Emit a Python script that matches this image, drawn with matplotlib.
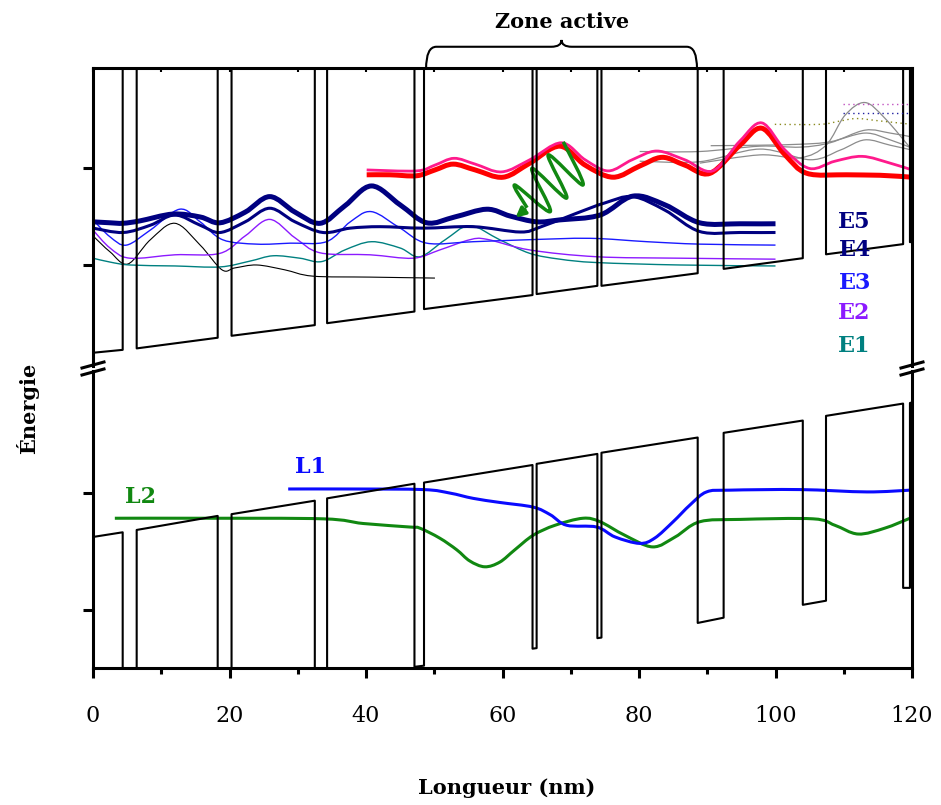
import matplotlib
matplotlib.use('Agg')
import matplotlib.pyplot as plt
from matplotlib.path import Path
from matplotlib.patches import PathPatch
from matplotlib.lines import Line2D

plt.rcParams['font.family'] = ['DejaVu Serif']

# layer interfaces (nm), starting with a well at x = 0
interfaces = [0.0, 4.35, 6.4, 18.27, 20.3, 32.5, 34.3, 47.1, 48.5, 64.4, 65.0,
              73.9, 74.5, 88.6, 92.4, 104.0, 107.4, 118.7, 119.7, 120.0]

# conduction band (upper panel), well bottom at both ends of each well
cb_well_start = [1.419, 1.428, 1.454, 1.480, 1.509, 1.540, 1.557, 1.592, 1.622, 1.647]
cb_well_end = [1.425, 1.450, 1.476, 1.504, 1.538, 1.557, 1.583, 1.614, 1.643, 1.648]
cb_barrier_top = 2.4  # out of view

# valence band (lower panel), well top and barrier bottom
vb_well_start = [0.224, 0.236, 0.263, 0.290, 0.317, 0.349, 0.368, 0.402, 0.431, 0.453]
vb_well_end = [0.232, 0.260, 0.286, 0.315, 0.347, 0.366, 0.394, 0.423, 0.452, 0.454]
vb_barrier_start = [-0.08, -0.05, -0.025, 0.002, 0.033, 0.051, 0.077, 0.108, 0.137]
vb_barrier_end = [-0.076, -0.046, -0.021, 0.004, 0.034, 0.052, 0.086, 0.115, 0.137]

# electron states
e5_x = [0.0, 2.5, 4.4, 6.9, 11.7, 15.7, 18.6, 22.3, 25.9, 29.6, 33.3, 36.9, 40.8, 45.0,
        48.9, 53.0, 57.7, 61.1, 65.0, 68.4, 74.3, 79.1, 83.8, 88.9, 94.8, 100.0]
e5_y = [1.689, 1.687, 1.686, 1.691, 1.705, 1.699, 1.687, 1.709, 1.741, 1.709, 1.686, 1.722,
        1.763, 1.724, 1.687, 1.699, 1.715, 1.701, 1.689, 1.693, 1.703, 1.742, 1.724, 1.687,
        1.685, 1.685]
e4_x = [0.0, 4.4, 8.4, 12.0, 15.7, 18.6, 22.3, 25.9, 29.6, 33.7, 37.7, 42.1, 48.4, 55.7,
        62.6, 65.5, 70.9, 75.0, 79.1, 83.8, 88.9, 94.8, 100.0]
e4_y = [1.676, 1.667, 1.682, 1.703, 1.682, 1.667, 1.689, 1.717, 1.689, 1.667, 1.676, 1.679,
        1.676, 1.679, 1.668, 1.678, 1.707, 1.728, 1.741, 1.713, 1.669, 1.667, 1.667]
e3_x = [0.0, 2.5, 4.9, 8.4, 12.7, 15.7, 19.0, 24.0, 28.9, 34.2, 37.7, 40.8, 45.0, 48.9,
        55.7, 63.6, 72.8, 81.2, 88.9, 100.0]
e3_y = [1.693, 1.658, 1.641, 1.672, 1.715, 1.689, 1.652, 1.643, 1.645, 1.648, 1.689, 1.710,
        1.676, 1.645, 1.648, 1.652, 1.655, 1.648, 1.643, 1.641]
e2_x = [0.0, 2.5, 5.4, 12.0, 18.6, 22.3, 25.9, 29.6, 33.3, 40.6, 46.9, 50.8, 55.2, 57.7,
        64.0, 73.8, 86.0, 100.0]
e2_y = [1.672, 1.635, 1.614, 1.621, 1.624, 1.660, 1.694, 1.656, 1.625, 1.621, 1.614, 1.631,
        1.652, 1.653, 1.631, 1.617, 1.614, 1.612]
e1_x = [0.0, 2.5, 5.4, 12.0, 18.6, 23.0, 26.4, 30.3, 33.5, 36.9, 40.8, 45.0, 47.9, 51.6,
        55.2, 59.6, 64.0, 68.4, 73.8, 86.0, 100.0]
e1_y = [1.614, 1.606, 1.600, 1.598, 1.596, 1.608, 1.619, 1.614, 1.607, 1.631, 1.648, 1.635,
        1.617, 1.652, 1.681, 1.652, 1.624, 1.612, 1.605, 1.600, 1.598]
e0_x = [0.0, 2.5, 5.1, 8.4, 12.0, 15.7, 18.9, 20.8, 24.0, 28.1, 32.2, 40.6, 50.1]
e0_y = [1.660, 1.627, 1.602, 1.652, 1.686, 1.641, 1.590, 1.594, 1.600, 1.590, 1.577,
        1.575, 1.573]

# upper states
red_x = [40.1, 43.5, 47.4, 50.1, 52.8, 56.0, 60.1, 64.0, 68.4, 72.1, 76.2, 80.1, 83.4,
         86.7, 90.4, 94.8, 98.0, 101.4, 104.6, 110.4, 115.3, 120.0]
red_y = [1.786, 1.786, 1.784, 1.796, 1.808, 1.796, 1.781, 1.810, 1.845, 1.806, 1.781, 1.804,
         1.822, 1.806, 1.789, 1.847, 1.882, 1.827, 1.789, 1.786, 1.785, 1.781]
pink_x = [40.1, 47.4, 50.1, 52.9, 56.0, 59.9, 64.0, 68.6, 72.1, 75.5, 79.0, 82.6, 86.7,
          90.8, 94.8, 98.0, 101.4, 105.0, 108.7, 112.7, 116.8, 120.0]
pink_y = [1.796, 1.794, 1.806, 1.820, 1.808, 1.792, 1.817, 1.852, 1.817, 1.794, 1.817, 1.835,
          1.817, 1.794, 1.856, 1.893, 1.837, 1.799, 1.814, 1.824, 1.810, 1.796]
gray1_x = [80.1, 88.9, 97.7, 103.6, 108.0, 113.1, 116.8, 120.0]
gray1_y = [1.834, 1.834, 1.845, 1.843, 1.852, 1.878, 1.872, 1.864]
gray2_x = [80.1, 88.9, 97.7, 105.1, 109.5, 113.1, 116.8, 120.0]
gray2_y = [1.814, 1.813, 1.839, 1.817, 1.837, 1.858, 1.847, 1.837]
gray3_x = [90.5, 97.7, 103.6, 108.0, 113.1, 116.8, 120.0]
gray3_y = [1.846, 1.847, 1.849, 1.854, 1.872, 1.858, 1.841]
gray4_x = [88.9, 97.7, 103.6, 107.4, 110.2, 113.1, 116.0, 120.0]
gray4_y = [1.810, 1.827, 1.821, 1.847, 1.909, 1.935, 1.903, 1.837]
olive_x = [99.9, 106.5, 109.5, 111.9, 115.3, 120.0]
olive_y = [1.890, 1.890, 1.897, 1.902, 1.897, 1.890]
violet_dot_x = [109.9, 120.0]
violet_dot_y = [1.932, 1.932]
blue_dot_x = [109.9, 120.0]
blue_dot_y = [1.914, 1.914]

# photon (green wavy arrow)
photon_x = [68.9, 71.8, 66.7, 69.4, 64.3, 67.0, 61.8, 63.6]
photon_y = [1.854, 1.765, 1.827, 1.738, 1.799, 1.710, 1.765, 1.718]
photon_tip = (61.6, 1.694)

# hole states (lower panel)
l1_x = [28.6, 37.7, 48.4, 52.3, 55.7, 59.6, 64.5, 67.0, 69.4, 73.8, 76.5, 80.1, 82.3,
        85.0, 87.5, 89.9, 93.3, 103.6, 113.4, 119.7]
l1_y = [0.306, 0.306, 0.305, 0.299, 0.290, 0.283, 0.275, 0.262, 0.244, 0.241, 0.224, 0.213,
        0.222, 0.250, 0.279, 0.301, 0.304, 0.305, 0.301, 0.304]
l2_x = [3.2, 15.7, 33.7, 39.6, 46.4, 47.9, 50.8, 53.3, 55.2, 57.4, 59.6, 61.8, 64.5, 67.7,
        71.8, 74.3, 77.9, 82.0, 85.3, 88.9, 94.8, 105.5, 108.7, 112.1, 116.0, 119.7]
l2_y = [0.256, 0.256, 0.255, 0.247, 0.241, 0.239, 0.222, 0.202, 0.183, 0.173, 0.181, 0.202,
        0.227, 0.244, 0.256, 0.250, 0.227, 0.207, 0.224, 0.250, 0.254, 0.255, 0.244, 0.229,
        0.239, 0.256]

state_labels = ['E5', 'E4', 'E3', 'E2', 'E1']
state_label_y = [1.689, 1.631, 1.563, 1.501, 1.433]
state_colors = ['#000080', '#000080', '#1a1aff', '#8c1aff', '#008080']

xticks = [0, 20, 40, 60, 80, 100, 120]

navy = '#000080'
green = '#118811'


def band_profile(edges, w0, w1, b0, b1):
    xs, ys = [], []
    for i in range(len(w0)):
        xs += [edges[2 * i], edges[2 * i + 1]]
        ys += [w0[i], w1[i]]
        if i < len(b0):
            xs += [edges[2 * i + 1], edges[2 * i + 2]]
            ys += [b0[i], b1[i]]
    return xs, ys


def smooth(ax, xs, ys, **kw):
    # smooth connection through the read points (Catmull-Rom drawn as Bezier)
    pts = list(zip(xs, ys))
    verts = [pts[0]]
    codes = [Path.MOVETO]
    n = len(pts)
    for i in range(n - 1):
        p0 = pts[i - 1] if i > 0 else pts[i]
        p1, p2 = pts[i], pts[i + 1]
        p3 = pts[i + 2] if i + 2 < n else pts[i + 1]
        c1 = (p1[0] + (p2[0] - p0[0]) / 6, p1[1] + (p2[1] - p0[1]) / 6)
        c2 = (p2[0] - (p3[0] - p1[0]) / 6, p2[1] - (p3[1] - p1[1]) / 6)
        verts += [c1, c2, p2]
        codes += [Path.CURVE4] * 3
    ax.add_patch(PathPatch(Path(verts, codes), fill=False, joinstyle='round', **kw))


fig = plt.figure(figsize=(9.41, 8.05), dpi=100)
ax_top = fig.add_axes([93 / 941, 1 - 366 / 805, 819 / 941, 298 / 805])
ax_bot = fig.add_axes([93 / 941, 1 - 668 / 805, 819 / 941, 297 / 805])

n_bar = len(cb_well_start) - 1
cx, cy = band_profile(interfaces, cb_well_start, cb_well_end,
                      [cb_barrier_top] * n_bar, [cb_barrier_top] * n_bar)
ax_top.plot(cx, cy, color='black', lw=1.5)
vx, vy = band_profile(interfaces, vb_well_start, vb_well_end,
                      vb_barrier_start, vb_barrier_end)
ax_bot.plot(vx, vy, color='black', lw=1.5)

# upper panel curves
smooth(ax_top, e0_x, e0_y, edgecolor='black', lw=0.8)
smooth(ax_top, e1_x, e1_y, edgecolor='#008080', lw=1.0)
smooth(ax_top, e2_x, e2_y, edgecolor='#8c1aff', lw=1.0)
smooth(ax_top, e3_x, e3_y, edgecolor='#1a1aff', lw=1.0)
smooth(ax_top, e4_x, e4_y, edgecolor=navy, lw=2.2)
smooth(ax_top, e5_x, e5_y, edgecolor=navy, lw=3.6)
for gx, gy in [(gray1_x, gray1_y), (gray2_x, gray2_y), (gray3_x, gray3_y), (gray4_x, gray4_y)]:
    smooth(ax_top, gx, gy, edgecolor='#8c8c8c', lw=0.9)
smooth(ax_top, olive_x, olive_y, edgecolor='#8a8a20', lw=1.0, ls=(0, (1, 2.5)))
ax_top.plot(violet_dot_x, violet_dot_y, color='#c050c0', lw=1.0, ls=(0, (1, 2.5)))
ax_top.plot(blue_dot_x, blue_dot_y, color='#2020a0', lw=1.0, ls=(0, (1, 2.5)))
smooth(ax_top, red_x, red_y, edgecolor='#ff0000', lw=3.6)
smooth(ax_top, pink_x, pink_y, edgecolor='#ff1a8c', lw=2.0)

smooth(ax_top, photon_x, photon_y, edgecolor=green, lw=2.5)
ax_top.annotate('', xy=photon_tip, xytext=(photon_x[-1], photon_y[-1]),
                arrowprops=dict(arrowstyle='-|>', color=green, lw=2.5, mutation_scale=14))

for lab, ly, lc in zip(state_labels, state_label_y, state_colors):
    ax_top.text(111.6, ly, lab, color=lc, fontsize=16, fontweight='bold',
                ha='center', va='center')

# lower panel curves
smooth(ax_bot, l2_x, l2_y, edgecolor=green, lw=2.2)
smooth(ax_bot, l1_x, l1_y, edgecolor='#0a0aff', lw=2.2)
ax_bot.text(31.9, 0.344, 'L1', color='#0a0aff', fontsize=16, fontweight='bold',
            ha='center', va='center')
ax_bot.text(7.0, 0.292, 'L2', color=green, fontsize=16, fontweight='bold',
            ha='center', va='center')

# axes styling
for ax in (ax_top, ax_bot):
    ax.set_xlim(0, 120)
    for s in ax.spines.values():
        s.set_linewidth(2.2)
ax_top.set_ylim(1.3917, 2.0062)
ax_bot.set_ylim(0, 0.5077)
ax_top.spines['bottom'].set_visible(False)
ax_bot.spines['top'].set_visible(False)

ax_top.set_yticks([1.6, 1.8])
ax_bot.set_yticks([0.1, 0.3])
for ax in (ax_top, ax_bot):
    ax.set_yticklabels([])
    ax.tick_params(axis='y', direction='out', length=7, width=2.2, right=False)

ax_top.set_xticks(range(0, 121, 10))
ax_top.tick_params(axis='x', top=True, bottom=False, labelbottom=False,
                   direction='in', length=3, width=1.5)
ax_bot.set_xticks(xticks)
ax_bot.set_xticks(range(10, 120, 20), minor=True)
ax_bot.tick_params(axis='x', which='major', direction='out', length=7, width=2.2,
                   labelsize=16, pad=20)
ax_bot.tick_params(axis='x', which='minor', direction='out', length=4.5, width=2.2)

# axis break marks
for xc in (93, 912):
    for yc in (365, 372):
        fig.add_artist(Line2D([(xc - 11) / 941, (xc + 11) / 941],
                              [1 - (yc + 3) / 805, 1 - (yc - 3) / 805],
                              transform=fig.transFigure, color='black', lw=2.2))

# brace over the active zone
bx0, bx1 = 48.8, 88.5
bxc = (bx0 + bx1) / 2
yb, ym, yt, r = 2.004, 2.050, 2.064, 1.5
verts = [(bx0, yb), (bx0, ym), (bx0 + r, ym), (bxc - r, ym), (bxc, ym), (bxc, yt),
         (bxc, ym), (bxc + r, ym), (bx1 - r, ym), (bx1, ym), (bx1, yb)]
codes = [Path.MOVETO, Path.CURVE3, Path.CURVE3, Path.LINETO, Path.CURVE3, Path.CURVE3,
         Path.CURVE3, Path.CURVE3, Path.LINETO, Path.CURVE3, Path.CURVE3]
ax_top.add_patch(PathPatch(Path(verts, codes), fill=False, lw=1.5, color='black',
                           clip_on=False))

fig.text(562 / 941, 1 - 22 / 805, 'Zone active', ha='center', va='center',
         fontsize=15, fontweight='bold')
fig.text(507 / 941, 1 - 788 / 805, 'Longueur (nm)', ha='center', va='center',
         fontsize=15, fontweight='bold')
fig.text(28 / 941, 1 - 408 / 805, 'Énergie', ha='center', va='center', rotation=90,
         fontsize=15, fontweight='bold')

fig.savefig('out.png', dpi=100)
